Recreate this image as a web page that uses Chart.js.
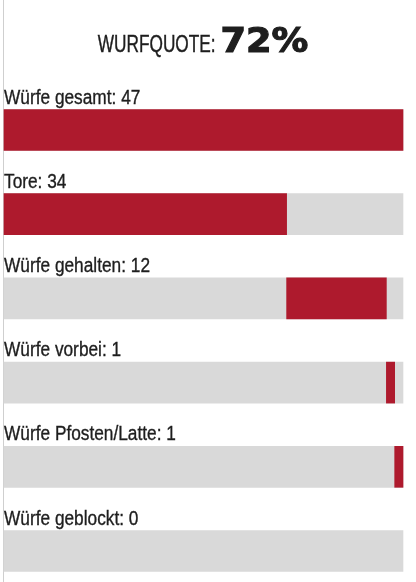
<!DOCTYPE html>
<html>
<head>
<meta charset="utf-8">
<script src="https://cdn.jsdelivr.net/npm/chart.js@4"></script>
<style>
  html, body { margin: 0; padding: 0; background: #fff; }
  #wrap { width: 416px; height: 582px; }
</style>
</head>
<body>
<div id="wrap"><canvas id="quoteChart"></canvas></div>
<script>
// Wurfstatistik
const categories = ['Würfe gesamt', 'Tore', 'Würfe gehalten', 'Würfe vorbei', 'Würfe Pfosten/Latte', 'Würfe geblockt'];
const counts = [47, 34, 12, 1, 1, 0];
const quote = 72;

const RED = '#ae1a2d';
const GRAY = '#d9d9d9';
const TEXT = '#1e1e1e';
const SANS = '"Liberation Sans", Arial, sans-serif';

// parts after the total are laid end to end
const axisMax = counts.slice(1).reduce((a, b) => a + b, 0);
let offset = 0;
const segments = counts.map((v, i) => {
    if (i === 0) return [0, axisMax];
    const seg = v > 0 ? [offset, offset + v] : null;
    offset += v;
    return seg;
});
const tracks = categories.map(() => [0, axisMax]);

// condensed look: squeeze a regular font horizontally
function textWidth(ctx, text, font, sx) {
    ctx.font = font;
    return ctx.measureText(text).width * sx;
}
function drawScaled(ctx, text, x, y, font, sx, weight) {
    ctx.save();
    ctx.font = font;
    ctx.translate(x, y);
    ctx.scale(sx, 1);
    ctx.fillText(text, 0, 0);
    if (weight) {
        ctx.strokeStyle = ctx.fillStyle;
        ctx.lineWidth = weight;
        ctx.strokeText(text, 0, 0);
    }
    ctx.restore();
}

const labelPlugin = {
    id: 'labels',
    beforeDraw(chart) {
        const ctx = chart.ctx;
        ctx.save();
        ctx.fillStyle = '#cfcfcf';
        ctx.fillRect(3, 0, 1, chart.height);
        ctx.restore();
    },
    afterDatasetsDraw(chart) {
        const ctx = chart.ctx;
        const meta = chart.getDatasetMeta(0);
        ctx.save();
        ctx.fillStyle = TEXT;
        ctx.textBaseline = 'alphabetic';
        ctx.textAlign = 'left';
        const labelFont = '19.5px ' + SANS;
        meta.data.forEach((bar, i) => {
            const top = bar.y - bar.height / 2;
            drawScaled(ctx, categories[i] + ': ' + counts[i], 4, top - 6, labelFont, 0.886, 0.35);
        });

        // title
        const f1 = '23px ' + SANS;
        const f2 = 'bold 34px "DejaVu Sans", sans-serif';
        const t1 = 'WURFQUOTE: ';
        const t2 = quote + '%';
        const w1 = textWidth(ctx, t1, f1, 0.75);
        const w2 = textWidth(ctx, t2, f2, 1.08);
        const x0 = 203 - (w1 + w2) / 2;
        drawScaled(ctx, t1, x0, 52, f1, 0.75, 0.4);
        drawScaled(ctx, t2, x0 + w1, 52, f2, 1.08, 1.2);
        ctx.restore();
    }
};

new Chart(document.getElementById('quoteChart'), {
    type: 'bar',
    data: {
        labels: categories,
        datasets: [
            {
                data: tracks,
                backgroundColor: GRAY,
                barThickness: 41,
                grouped: false,
                order: 2,
                clip: false
            },
            {
                data: segments,
                backgroundColor: RED,
                barThickness: 41,
                grouped: false,
                order: 1,
                clip: false
            }
        ]
    },
    options: {
        indexAxis: 'y',
        responsive: true,
        maintainAspectRatio: false,
        animation: false,
        layout: { padding: { top: 130, bottom: 31, left: 4, right: 13 } },
        plugins: {
            legend: { display: false },
            tooltip: { enabled: false },
            title: { display: false }
        },
        scales: {
            x: { type: 'linear', min: 0, max: axisMax, display: false },
            y: { display: false, offset: false }
        }
    },
    plugins: [labelPlugin]
});
</script>
</body>
</html>
